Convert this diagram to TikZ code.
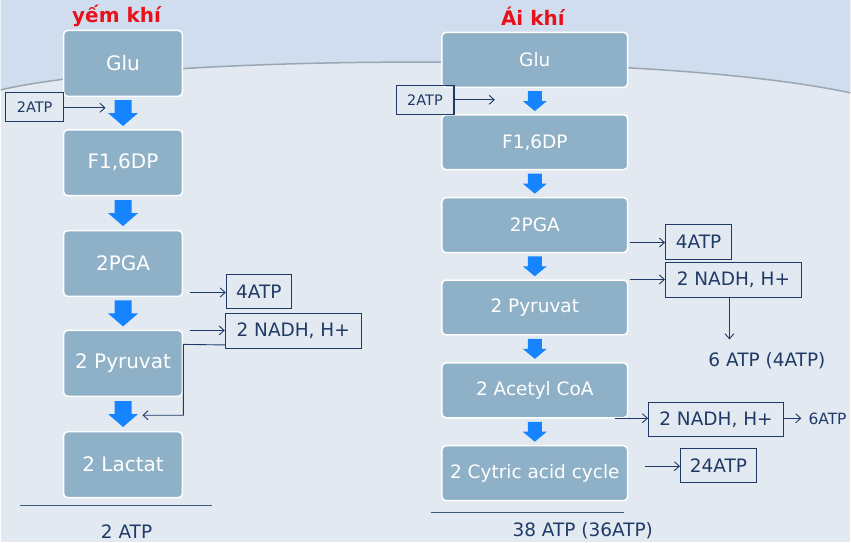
\documentclass[tikz,border=0pt]{standalone}
\usepackage{fontspec}
\setmainfont{DejaVu Sans}
\usetikzlibrary{arrows.meta,calc}
\definecolor{boxc}{HTML}{8FB1C8}
\definecolor{navy}{HTML}{1F3A66}
\definecolor{barrow}{HTML}{1784FF}
\definecolor{bgc}{HTML}{E2E9F1}
\definecolor{bgtop}{HTML}{D0DDEE}
\definecolor{arcc}{HTML}{9AA6B2}
\definecolor{titlered}{HTML}{E8101A}
\newcommand\blkarrow[5]{% #1 centre, #2 half length, #3 shaft half width, #4 head half width, #5 head length
  \fill[barrow] ($(#1)+(-#3,-#2)$) -- ($(#1)+(#3,-#2)$) -- ($(#1)+(#3,#2-#5)$) -- ($(#1)+(#4,#2-#5)$)
    -- ($(#1)+(0,#2)$) -- ($(#1)+(-#4,#2-#5)$) -- ($(#1)+(-#3,#2-#5)$) -- cycle;}
\begin{document}
\begin{tikzpicture}[x=1pt,y=-1pt,
  stagebox/.style={rectangle, rounded corners=4pt, fill=boxc, draw=white, line width=1.5pt, text=white, inner sep=0pt},
  lbox/.style={stagebox, minimum width=119pt, minimum height=66pt, font=\fontsize{20}{24}\selectfont},
  rbox/.style={stagebox, minimum width=186pt, minimum height=55pt, font=\fontsize{18.5}{22}\selectfont},
  tagbox/.style={rectangle, draw=navy, line width=1.1pt, text=navy, inner sep=0pt, font=\fontsize{18.5}{22}\selectfont},
  smalltag/.style={tagbox, font=\fontsize{14.5}{17}\selectfont},
  plaintxt/.style={text=navy, inner sep=0pt, font=\fontsize{18.5}{22}\selectfont},
  conn/.style={draw=navy, line width=0.9pt, -{Straight Barb[length=5pt,width=9pt]}},
  rulebar/.style={draw=navy!85, line width=1pt},
  titletxt/.style={text=titlered, font=\bfseries\fontsize{20}{24}\selectfont, inner sep=0pt}
]
% background
\fill[bgc] (0,0) rectangle (851,543);
\fill[bgtop] (0,0) -- (0,90) .. controls (150,55) and (650,50) .. (851,93) -- (851,0) -- cycle;
\draw[arcc, line width=1.5pt] (0,90) .. controls (150,55) and (650,50) .. (851,93);
\useasboundingbox (0,0) rectangle (851,543);

% titles
\node[titletxt, anchor=base] (tL) at (116,23) {yếm khí};
\node[titletxt, anchor=base] (tR) at (533,26) {Ái khí};

% left column (anaerobic)
\node[lbox] (gluL) at (122.5,63.5) {Glu};
\node[lbox] (f1L)  at (122.5,163)  {F1,6DP};
\node[lbox] (pgaL) at (122.5,264)  {2PGA};
\node[lbox] (pyrL) at (122.5,364)  {2 Pyruvat};
\node[lbox] (lacL) at (122.5,465.5){2 Lactat};

\foreach \a/\b [count=\i] in {gluL/f1L, f1L/pgaL, pgaL/pyrL, pyrL/lacL}{
  \coordinate (mL\i) at ($(\a.south)!0.5!(\b.north)$);
  \blkarrow{mL\i}{13}{8.5}{15}{13}
}

\node[smalltag, minimum width=58pt, minimum height=29pt] (atpL1) at (34,107.5) {2ATP};
\node[tagbox, minimum width=65pt, minimum height=34pt] (atpL2) at (258.5,292) {4ATP};
\node[tagbox, minimum width=136pt, minimum height=35pt] (nadhL) at (293,331.5) {2 NADH, H+};

\coordinate (inL1) at (105,108);
\coordinate (outL2) at (190,293);
\coordinate (outL3) at (190,331);
\coordinate (retL) at (142,416);
\draw[conn] (atpL1.east |- inL1) -- (inL1);
\draw[conn] (outL2) -- (atpL2.west |- outL2);
\draw[conn] (outL3) -- (nadhL.west |- outL3);
\draw[conn] ([yshift=4pt]nadhL.south west) -- (183,345) |- (retL);

\draw[rulebar] (19,506) -- (212,506);
\node[plaintxt, anchor=base] (totL) at (126,539) {2 ATP};

% right column (aerobic)
\node[rbox] (gluR) at (535,60)    {Glu};
\node[rbox] (f1R)  at (535,142.5) {F1,6DP};
\node[rbox] (pgaR) at (535,225.5) {2PGA};
\node[rbox] (pyrR) at (535,308)   {2 Pyruvat};
\node[rbox] (acR)  at (535,391)   {2 Acetyl CoA};
\node[rbox] (cycR) at (535,474)   {2 Cytric acid cycle};

\foreach \a/\b [count=\i] in {gluR/f1R, f1R/pgaR, pgaR/pyrR, pyrR/acR, acR/cycR}{
  \coordinate (mR\i) at ($(\a.south)!0.5!(\b.north)$);
  \blkarrow{mR\i}{10}{7}{12}{10}
}

\node[smalltag, minimum width=58pt, minimum height=29pt] (atpR1) at (425,100.5) {2ATP};
\node[tagbox, minimum width=66pt, minimum height=35pt] (atpR2) at (699,242.5) {4ATP};
\node[tagbox, minimum width=136pt, minimum height=35pt] (nadhR1) at (734,280.5) {2 NADH, H+};
\node[tagbox, minimum width=135pt, minimum height=34pt] (nadhR2) at (716.5,420) {2 NADH, H+};
\node[tagbox, minimum width=76pt, minimum height=34pt] (atpR3) at (719,466) {24ATP};
\node[plaintxt, anchor=base] (atpR4) at (767.5,367) {6 ATP (4ATP)};
\node[plaintxt, anchor=base west, font=\fontsize{15.5}{18}\selectfont] (atpR5) at (809,425) {6ATP};

\coordinate (inR1) at (495,100);
\coordinate (outR2) at (630,243);
\coordinate (outR3) at (630,280);
\coordinate (outR4) at (615,419);
\coordinate (outR5) at (645,467);
\coordinate (endR6) at (802,419);
\draw[conn] (atpR1.east |- inR1) -- (inR1);
\draw[conn] (outR2) -- (atpR2.west |- outR2);
\draw[conn] (outR3) -- (nadhR1.west |- outR3);
\draw[conn] ([xshift=-4pt]nadhR1.south) -- ([xshift=-4pt]nadhR1.south |- 0,340);
\draw[conn] (outR4) -- (nadhR2.west |- outR4);
\draw[conn] (nadhR2.east |- endR6) -- (endR6);
\draw[conn] (outR5) -- (atpR3.west |- outR5);

\draw[rulebar] (431,513) -- (624,513);
\node[plaintxt, anchor=base] (totR) at (583,537) {38 ATP (36ATP)};
\end{tikzpicture}
\end{document}
